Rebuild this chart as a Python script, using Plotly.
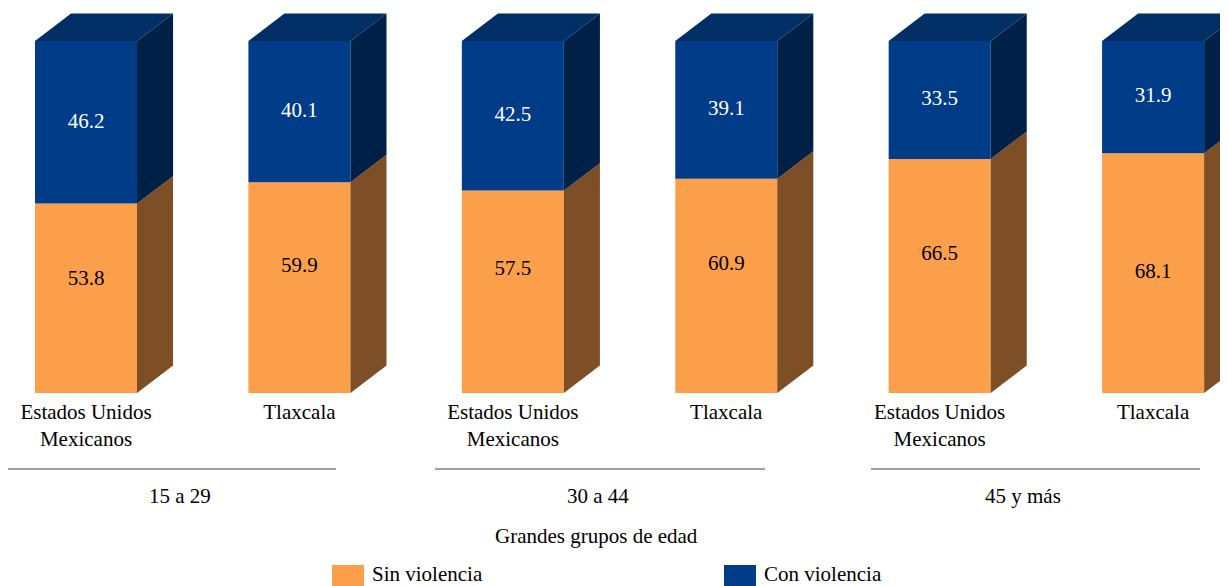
import plotly.graph_objects as go

# data
groups = ["15 a 29", "30 a 44", "45 y más"]
places = ["Estados Unidos<br>Mexicanos", "Tlaxcala"]
sin_violencia = [53.8, 59.9, 57.5, 60.9, 66.5, 68.1]
con_violencia = [46.2, 40.1, 42.5, 39.1, 33.5, 31.9]

# style
ORANGE = "#FB9F4B"
ORANGE_SIDE = "#7E4F26"
BLUE = "#003C87"
BLUE_SIDE = "#002147"
BLUE_TOP = "#002F65"
FONT = "Liberation Serif, Times New Roman, serif"
BAR_W = 0.478
DX, DY = 0.169, 7.8          # 3D depth offset in data units
label_frac = [0.6, 0.6, 0.61, 0.6, 0.59, 0.5]   # where the orange value sits in its segment
group_lines_px = [(7, 336), (435, 765), (871, 1200)]
group_label_px = [180, 598, 1023]

# page has an 8px body margin, so the figure is a bit smaller than the window
OFF = 8
W, H = 1228 - OFF, 586 - OFF
XR = [-0.3655, 5.351]
YR = [0, 109.375]
PLOT_H = 393 - OFF

n = len(sin_violencia)
xs = list(range(n))
ticktext = [places[i % 2] for i in xs]

fig = go.Figure()

# front faces
fig.add_trace(go.Bar(x=xs, y=sin_violencia, width=BAR_W, marker=dict(color=ORANGE, line_width=0),
                     name="Sin violencia", showlegend=False, hoverinfo="skip"))
fig.add_trace(go.Bar(x=xs, y=con_violencia, base=sin_violencia, width=BAR_W,
                     marker=dict(color=BLUE, line_width=0),
                     name="Con violencia", showlegend=False, hoverinfo="skip"))

# side and top faces
for i in xs:
    xl, xr = i - BAR_W / 2, i + BAR_W / 2
    s = sin_violencia[i]
    top = s + con_violencia[i]
    faces = [
        ([xr, xr + DX, xr + DX, xr, xr], [0, DY, s + DY, s, 0], ORANGE_SIDE),
        ([xr, xr + DX, xr + DX, xr, xr], [s, s + DY, top + DY, top, s], BLUE_SIDE),
        ([xl, xl + DX, xr + DX, xr, xl], [top, top + DY, top + DY, top, top], BLUE_TOP),
    ]
    for fx, fy, col in faces:
        fig.add_trace(go.Scatter(x=fx, y=fy, mode="lines", fill="toself", fillcolor=col,
                                 line=dict(width=0, color=col), showlegend=False, hoverinfo="skip"))

# value labels
fig.add_trace(go.Scatter(x=xs, y=[v * f for v, f in zip(sin_violencia, label_frac)], mode="text",
                         text=[f"{v:.1f}" for v in sin_violencia],
                         textfont=dict(family=FONT, size=21, color="black"),
                         showlegend=False, hoverinfo="skip"))
fig.add_trace(go.Scatter(x=xs, y=[s + c / 2 for s, c in zip(sin_violencia, con_violencia)], mode="text",
                         text=[f"{v:.1f}" for v in con_violencia],
                         textfont=dict(family=FONT, size=21, color="white"),
                         showlegend=False, hoverinfo="skip"))


def ppx(xpix):
    return (xpix - OFF) / W


def py(ypix):
    return (393 - ypix) / PLOT_H


shapes = []
annotations = []
for name, (a, b), c in zip(groups, group_lines_px, group_label_px):
    shapes.append(dict(type="line", xref="paper", yref="paper",
                       x0=ppx(a), x1=ppx(b), y0=py(469), y1=py(469),
                       line=dict(color="#404040", width=1)))
    annotations.append(dict(text=name, xref="paper", yref="paper", x=ppx(c), y=py(496),
                            showarrow=False, xanchor="center", yanchor="middle",
                            font=dict(family=FONT, size=21, color="black")))

annotations.append(dict(text="Grandes grupos de edad", xref="paper", yref="paper", x=ppx(596), y=py(536),
                        showarrow=False, xanchor="center", yanchor="middle",
                        font=dict(family=FONT, size=21, color="black")))

# legend
for x0, col, label in [(332, ORANGE, "Sin violencia"), (724, BLUE, "Con violencia")]:
    shapes.append(dict(type="rect", xref="paper", yref="paper", x0=ppx(x0), x1=ppx(x0 + 32),
                       y0=py(565), y1=py(600), fillcolor=col, line_width=0))
    annotations.append(dict(text=label, xref="paper", yref="paper", x=ppx(x0 + 38), y=py(574),
                            showarrow=False, xanchor="left", yanchor="middle",
                            font=dict(family=FONT, size=21, color="black")))

fig.update_layout(
    width=W, height=H,
    margin=dict(l=0, r=0, t=0, b=H - PLOT_H),
    plot_bgcolor="white", paper_bgcolor="white",
    barmode="overlay",
    showlegend=False,
    shapes=shapes,
    annotations=annotations,
    font=dict(family=FONT, size=21, color="black"),
)
fig.update_xaxes(range=XR, tickvals=xs, ticktext=ticktext, showgrid=False, zeroline=False,
                 showline=False, ticks="", ticklabelstandoff=4,
                 tickfont=dict(family=FONT, size=21, color="black"))
fig.update_yaxes(range=YR, visible=False, showgrid=False, zeroline=False)

fig.write_html("out.html")
